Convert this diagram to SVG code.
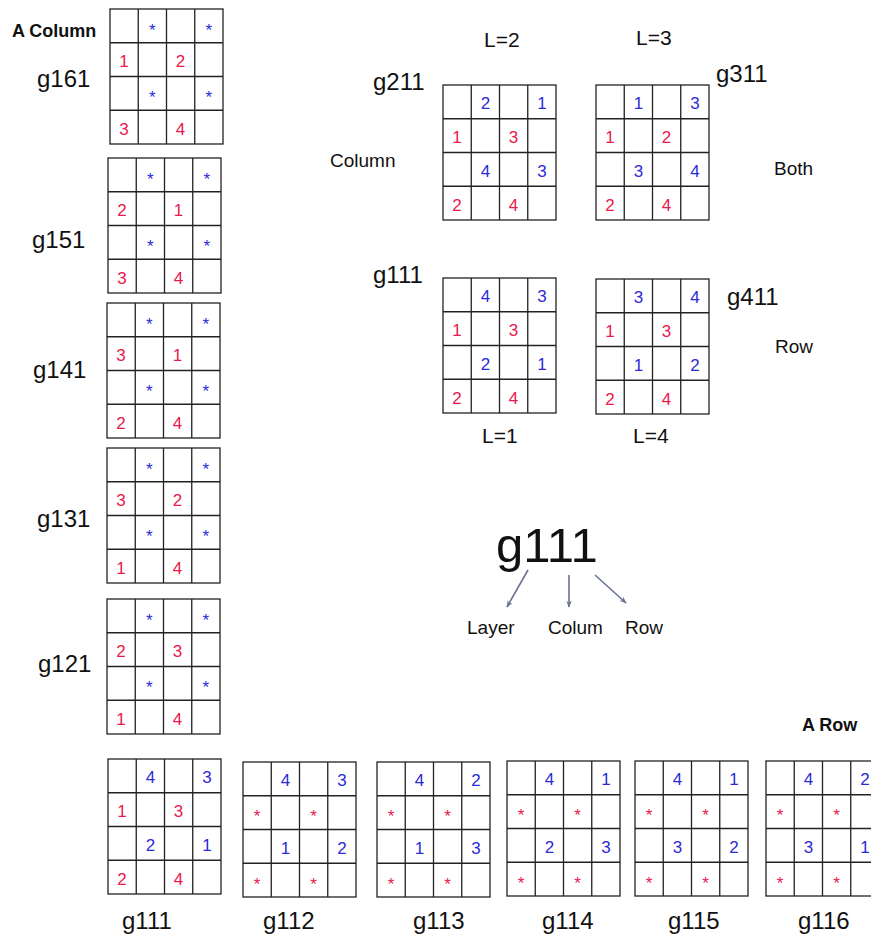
<svg xmlns="http://www.w3.org/2000/svg" width="871" height="940" viewBox="0 0 871 940">
<style>
text{font-family:"Liberation Sans",Arial,sans-serif;}
.lbl{font-size:24px;fill:#111;}
.bold{font-size:18px;font-weight:bold;fill:#111;}
.sm{font-size:19px;fill:#111;}
.L{font-size:21px;fill:#111;}
.r{font-size:17px;fill:#e8194b;text-anchor:middle;}
.b{font-size:17px;fill:#2b2bd6;text-anchor:middle;}
.sr{font-size:17px;fill:#e8194b;text-anchor:middle;}
.sb{font-size:17px;fill:#2b2bd6;text-anchor:middle;}
.gl{fill:#fff;stroke:#222;stroke-width:1.3;}
.conn{stroke:#6b7394;stroke-width:1.6;fill:none;}
</style>
<defs>
<g id="grid"><rect class="gl" x="0" y="0" width="113" height="135"/><path class="gl" d="M28.25 0V135M56.5 0V135M84.75 0V135M0 33.75H113M0 67.5H113M0 101.25H113"/></g>
<marker id="ah" viewBox="0 0 10 10" refX="9" refY="5" markerWidth="7" markerHeight="7" orient="auto" markerUnits="userSpaceOnUse"><path d="M0,1 L10,5 L0,9 L3,5 Z" fill="#6b7394"/></marker>
</defs>
<rect width="871" height="940" fill="#fff"/>

<text class="bold" x="12" y="37">A Column</text>
<text class="bold" x="802" y="731">A Row</text>

<!-- left column -->
<g id="g161"><text class="lbl" x="37" y="87">g161</text>
<g transform="translate(110,9)"><use href="#grid"/>
<text class="sb" x="42.4" y="26.7">*</text><text class="sb" x="98.9" y="26.7">*</text>
<text class="r" x="14.1" y="58.1">1</text><text class="r" x="70.6" y="58.1">2</text>
<text class="sb" x="42.4" y="94.2">*</text><text class="sb" x="98.9" y="94.2">*</text>
<text class="r" x="14.1" y="125.6">3</text><text class="r" x="70.6" y="125.6">4</text></g></g>

<g id="g151"><text class="lbl" x="32" y="248">g151</text>
<g transform="translate(108,158)"><use href="#grid"/>
<text class="sb" x="42.4" y="26.7">*</text><text class="sb" x="98.9" y="26.7">*</text>
<text class="r" x="14.1" y="58.1">2</text><text class="r" x="70.6" y="58.1">1</text>
<text class="sb" x="42.4" y="94.2">*</text><text class="sb" x="98.9" y="94.2">*</text>
<text class="r" x="14.1" y="125.6">3</text><text class="r" x="70.6" y="125.6">4</text></g></g>

<g id="g141"><text class="lbl" x="33" y="378">g141</text>
<g transform="translate(107,303)"><use href="#grid"/>
<text class="sb" x="42.4" y="26.7">*</text><text class="sb" x="98.9" y="26.7">*</text>
<text class="r" x="14.1" y="58.1">3</text><text class="r" x="70.6" y="58.1">1</text>
<text class="sb" x="42.4" y="94.2">*</text><text class="sb" x="98.9" y="94.2">*</text>
<text class="r" x="14.1" y="125.6">2</text><text class="r" x="70.6" y="125.6">4</text></g></g>

<g id="g131"><text class="lbl" x="37" y="527">g131</text>
<g transform="translate(107,448)"><use href="#grid"/>
<text class="sb" x="42.4" y="26.7">*</text><text class="sb" x="98.9" y="26.7">*</text>
<text class="r" x="14.1" y="58.1">3</text><text class="r" x="70.6" y="58.1">2</text>
<text class="sb" x="42.4" y="94.2">*</text><text class="sb" x="98.9" y="94.2">*</text>
<text class="r" x="14.1" y="125.6">1</text><text class="r" x="70.6" y="125.6">4</text></g></g>

<g id="g121"><text class="lbl" x="38" y="672">g121</text>
<g transform="translate(107,599)"><use href="#grid"/>
<text class="sb" x="42.4" y="26.7">*</text><text class="sb" x="98.9" y="26.7">*</text>
<text class="r" x="14.1" y="58.1">2</text><text class="r" x="70.6" y="58.1">3</text>
<text class="sb" x="42.4" y="94.2">*</text><text class="sb" x="98.9" y="94.2">*</text>
<text class="r" x="14.1" y="125.6">1</text><text class="r" x="70.6" y="125.6">4</text></g></g>

<!-- top right -->
<text class="L" x="484" y="47">L=2</text>
<text class="L" x="636" y="45">L=3</text>
<text class="sm" x="330" y="167">Column</text>
<text class="sm" x="774" y="175">Both</text>
<text class="sm" x="775" y="353">Row</text>
<text class="L" x="482" y="443">L=1</text>
<text class="L" x="633" y="443">L=4</text>

<g id="g211"><text class="lbl" x="373" y="90">g211</text>
<g transform="translate(443,85)"><use href="#grid"/>
<text class="b" x="42.4" y="24.4">2</text><text class="b" x="98.9" y="24.4">1</text>
<text class="r" x="14.1" y="58.1">1</text><text class="r" x="70.6" y="58.1">3</text>
<text class="b" x="42.4" y="91.9">4</text><text class="b" x="98.9" y="91.9">3</text>
<text class="r" x="14.1" y="125.6">2</text><text class="r" x="70.6" y="125.6">4</text></g></g>

<g id="g311"><text class="lbl" x="716" y="82">g311</text>
<g transform="translate(596,85)"><use href="#grid"/>
<text class="b" x="42.4" y="24.4">1</text><text class="b" x="98.9" y="24.4">3</text>
<text class="r" x="14.1" y="58.1">1</text><text class="r" x="70.6" y="58.1">2</text>
<text class="b" x="42.4" y="91.9">3</text><text class="b" x="98.9" y="91.9">4</text>
<text class="r" x="14.1" y="125.6">2</text><text class="r" x="70.6" y="125.6">4</text></g></g>

<g id="g111top"><text class="lbl" x="373" y="283">g111</text>
<g transform="translate(443,278)"><use href="#grid"/>
<text class="b" x="42.4" y="24.4">4</text><text class="b" x="98.9" y="24.4">3</text>
<text class="r" x="14.1" y="58.1">1</text><text class="r" x="70.6" y="58.1">3</text>
<text class="b" x="42.4" y="91.9">2</text><text class="b" x="98.9" y="91.9">1</text>
<text class="r" x="14.1" y="125.6">2</text><text class="r" x="70.6" y="125.6">4</text></g></g>

<g id="g411"><text class="lbl" x="727" y="305">g411</text>
<g transform="translate(596,279)"><use href="#grid"/>
<text class="b" x="42.4" y="24.4">3</text><text class="b" x="98.9" y="24.4">4</text>
<text class="r" x="14.1" y="58.1">1</text><text class="r" x="70.6" y="58.1">3</text>
<text class="b" x="42.4" y="91.9">1</text><text class="b" x="98.9" y="91.9">2</text>
<text class="r" x="14.1" y="125.6">2</text><text class="r" x="70.6" y="125.6">4</text></g></g>

<!-- legend -->
<g id="legend">
<text x="496" y="562" style="font-size:49px;fill:#111;">g111</text>
<text class="sm" x="467" y="634">Layer</text>
<text class="sm" x="548" y="634">Colum</text>
<text class="sm" x="625" y="634">Row</text>
</g>
<g id="connectors">
<path class="conn" d="M528 570L507 607" marker-end="url(#ah)"/>
<path class="conn" d="M569 575L569 607" marker-end="url(#ah)"/>
<path class="conn" d="M595 575L626 603" marker-end="url(#ah)"/>
</g>

<!-- bottom row -->
<g id="g111bottom"><text class="lbl" x="122" y="929">g111</text>
<g transform="translate(108,759)"><use href="#grid"/>
<text class="b" x="42.4" y="24.4">4</text><text class="b" x="98.9" y="24.4">3</text>
<text class="r" x="14.1" y="58.1">1</text><text class="r" x="70.6" y="58.1">3</text>
<text class="b" x="42.4" y="91.9">2</text><text class="b" x="98.9" y="91.9">1</text>
<text class="r" x="14.1" y="125.6">2</text><text class="r" x="70.6" y="125.6">4</text></g></g>

<g id="g112"><text class="lbl" x="263" y="929">g112</text>
<g transform="translate(243,762)"><use href="#grid"/>
<text class="b" x="42.4" y="24.4">4</text><text class="b" x="98.9" y="24.4">3</text>
<text class="sr" x="14.1" y="60.4">*</text><text class="sr" x="70.6" y="60.4">*</text>
<text class="b" x="42.4" y="91.9">1</text><text class="b" x="98.9" y="91.9">2</text>
<text class="sr" x="14.1" y="127.9">*</text><text class="sr" x="70.6" y="127.9">*</text></g></g>

<g id="g113"><text class="lbl" x="413" y="929">g113</text>
<g transform="translate(377,762)"><use href="#grid"/>
<text class="b" x="42.4" y="24.4">4</text><text class="b" x="98.9" y="24.4">2</text>
<text class="sr" x="14.1" y="60.4">*</text><text class="sr" x="70.6" y="60.4">*</text>
<text class="b" x="42.4" y="91.9">1</text><text class="b" x="98.9" y="91.9">3</text>
<text class="sr" x="14.1" y="127.9">*</text><text class="sr" x="70.6" y="127.9">*</text></g></g>

<g id="g114"><text class="lbl" x="542" y="929">g114</text>
<g transform="translate(507,761)"><use href="#grid"/>
<text class="b" x="42.4" y="24.4">4</text><text class="b" x="98.9" y="24.4">1</text>
<text class="sr" x="14.1" y="60.4">*</text><text class="sr" x="70.6" y="60.4">*</text>
<text class="b" x="42.4" y="91.9">2</text><text class="b" x="98.9" y="91.9">3</text>
<text class="sr" x="14.1" y="127.9">*</text><text class="sr" x="70.6" y="127.9">*</text></g></g>

<g id="g115"><text class="lbl" x="668" y="929">g115</text>
<g transform="translate(635,761)"><use href="#grid"/>
<text class="b" x="42.4" y="24.4">4</text><text class="b" x="98.9" y="24.4">1</text>
<text class="sr" x="14.1" y="60.4">*</text><text class="sr" x="70.6" y="60.4">*</text>
<text class="b" x="42.4" y="91.9">3</text><text class="b" x="98.9" y="91.9">2</text>
<text class="sr" x="14.1" y="127.9">*</text><text class="sr" x="70.6" y="127.9">*</text></g></g>

<g id="g116"><text class="lbl" x="798" y="929">g116</text>
<g transform="translate(766,761)"><use href="#grid"/>
<text class="b" x="42.4" y="24.4">4</text><text class="b" x="98.9" y="24.4">2</text>
<text class="sr" x="14.1" y="60.4">*</text><text class="sr" x="70.6" y="60.4">*</text>
<text class="b" x="42.4" y="91.9">3</text><text class="b" x="98.9" y="91.9">1</text>
<text class="sr" x="14.1" y="127.9">*</text><text class="sr" x="70.6" y="127.9">*</text></g></g>
</svg>
